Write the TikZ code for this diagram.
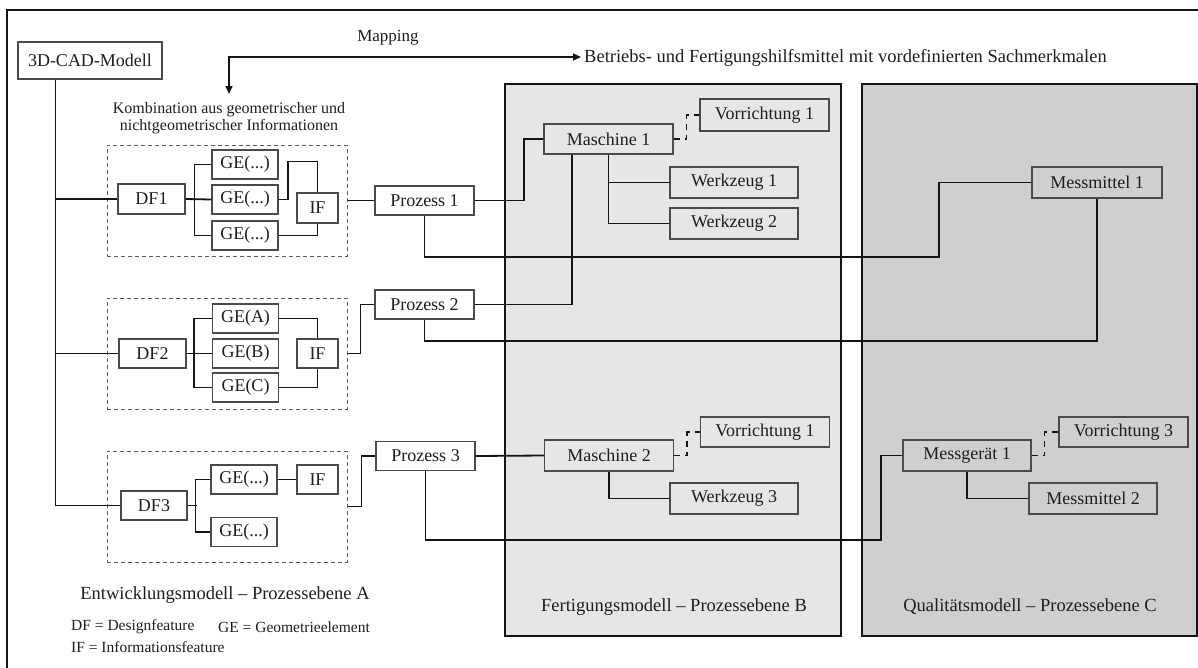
\documentclass[tikz,border=0pt]{standalone}
\usepackage{fontspec}
\setmainfont{Liberation Serif}
\usetikzlibrary{arrows.meta}
\definecolor{txt}{HTML}{1E1E1E}
\definecolor{boxline}{HTML}{4A4A4A}
\definecolor{conline}{HTML}{141414}
\definecolor{fertfill}{HTML}{E6E6E6}
\definecolor{qualfill}{HTML}{CFCFCF}
\tikzset{
  box/.style={draw=boxline, line width=1.2pt, fill=white, inner sep=0pt, text=txt,
              font=\fontsize{18}{20}\selectfont, minimum height=30pt},
  dfbox/.style={box, minimum width=67pt},
  gebox/.style={box, minimum width=66pt, minimum height=29pt},
  ifbox/.style={box, minimum width=41pt},
  procbox/.style={box, minimum width=99pt, minimum height=29pt},
  resbox/.style={box, minimum width=129pt, minimum height=31pt},
  groupbox/.style={draw=boxline!90, line width=1pt, dash pattern=on 4pt off 3pt,
              minimum width=240pt, minimum height=111pt, inner sep=0pt},
  area/.style={draw=conline, line width=1.8pt},
  con/.style={draw=conline, line width=1.8pt},
  thincon/.style={draw=conline, line width=1.2pt},
  dashcon/.style={draw=conline, line width=1.6pt, dash pattern=on 6pt off 5pt},
  lbl/.style={text=txt, inner sep=0pt, font=\fontsize{18.5}{21}\selectfont},
  smalllbl/.style={text=txt, inner sep=0pt, font=\fontsize{15.5}{18}\selectfont},
}
\begin{document}
\begin{tikzpicture}[x=1pt, y=-1pt]
\useasboundingbox (0,0) rectangle (1198,667);
% outer frame
\draw[line width=1.8pt, draw=conline] (7,10) rectangle (1215,690);

% process level areas B and C
\draw[area, fill=fertfill] (505,84) rectangle (841,636);
\draw[area, fill=qualfill] (862,84) rectangle (1197,636);
\node[lbl] (labB) at (674,607) {Fertigungsmodell – Prozessebene B};
\node[lbl] (labC) at (1030,607) {Qualitätsmodell – Prozessebene C};

% mapping arrow and captions
\node[lbl, font=\fontsize{17}{20}\selectfont] (mapping) at (388,38) {Mapping};
\node[lbl, anchor=west] (betriebs) at (584,58) {Betriebs- und Fertigungshilfsmittel mit vordefinierten Sachmerkmalen};
\node[lbl, font=\fontsize{16}{17.5}\selectfont, align=center] (kombi) at (229,118)
  {Kombination aus geometrischer und\\nichtgeometrischer Informationen};
\coordinate (mapL) at (229,94);
\coordinate (mapR) at (581,57);
\draw[con, line width=1.6pt, {Triangle[length=8pt,width=7pt]}-{Triangle[length=8pt,width=7pt]}] (mapL) |- (mapR);

% development model, level A
\node[box, minimum width=144pt, minimum height=37pt] (cad) at (90,60.5) {3D-CAD-Modell};

\node[groupbox] (G1) at (227,200.5) {};
\node[groupbox] (G2) at (227,353.5) {};
\node[groupbox] (G3) at (227,506.5) {};

\node[dfbox] (DF1) at (151.5,199) {DF1};
\node[gebox] (GE1a) at (245,164.5) {GE(...)};
\node[gebox] (GE1b) at (245,199.5) {GE(...)};
\node[gebox] (GE1c) at (245,235.5) {GE(...)};
\node[ifbox] (IF1) at (317.5,208) {IF};

\node[dfbox, minimum height=29pt] (DF2) at (152.5,353.5) {DF2};
\node[gebox] (GE2a) at (245.5,318.5) {GE(A)};
\node[gebox] (GE2b) at (245.5,353.5) {GE(B)};
\node[gebox] (GE2c) at (245.5,387.5) {GE(C)};
\node[ifbox, minimum height=29pt] (IF2) at (317.5,353.5) {IF};

\node[dfbox, minimum width=66pt, minimum height=29pt] (DF3) at (154,505.5) {DF3};
\node[gebox] (GE3a) at (244,479.5) {GE(...)};
\node[gebox] (GE3b) at (244,532) {GE(...)};
\node[ifbox, minimum height=29pt] (IF3) at (317.5,479.5) {IF};

\node[procbox] (P1) at (424.5,200.5) {Prozess 1};
\node[procbox] (P2) at (424.5,304.5) {Prozess 2};
\node[procbox] (P3) at (425.5,456) {Prozess 3};

\node[lbl] (labA) at (225,595) {Entwicklungsmodell – Prozessebene A};
\node[smalllbl, anchor=west] (legDF) at (71,627) {DF = Designfeature};
\node[smalllbl, anchor=west] (legGE) at (218,627) {GE = Geometrieelement};
\node[smalllbl, anchor=west] (legIF) at (71,647) {IF = Informationsfeature};

% manufacturing model, level B
\node[resbox, fill=fertfill, minimum height=30pt] (M1) at (608.5,139) {Maschine 1};
\node[resbox, fill=fertfill, minimum height=32pt] (V1) at (764.5,115) {Vorrichtung 1};
\node[resbox, fill=fertfill, minimum width=128pt] (W1) at (734,182.5) {Werkzeug 1};
\node[resbox, fill=fertfill, minimum width=128pt] (W2) at (734,223.5) {Werkzeug 2};
\node[resbox, fill=fertfill] (M2) at (609,455.5) {Maschine 2};
\node[resbox, fill=fertfill, minimum height=30pt] (V2) at (765,432) {Vorrichtung 1};
\node[resbox, fill=fertfill, minimum width=128pt] (W3) at (734,498.5) {Werkzeug 3};

% quality model, level C
\node[resbox, fill=qualfill, minimum width=130pt] (MM1) at (1097,182.5) {Messmittel 1};
\node[resbox, fill=qualfill, minimum width=128pt] (MG1) at (967,455.5) {Messgerät 1};
\node[resbox, fill=qualfill, minimum height=30pt] (V3) at (1123.5,432) {Vorrichtung 3};
\node[resbox, fill=qualfill, minimum width=128pt] (MM2) at (1093,498.5) {Messmittel 2};

% trunk from the CAD model to the design features
\coordinate (trunk) at ([xshift=38pt]cad.south west);
\draw[con] (trunk) |- (DF3.west);
\draw[con] (trunk |- DF1.west) -- (DF1.west);
\draw[con] (trunk |- DF2.west) -- (DF2.west);

% design feature 1
\draw[con] (DF1.east) -- (GE1b.west);
\draw[con] (GE1a.west) -- ++(-17,0) |- (GE1c.west);
\draw[con] (GE1b.east) -- ++(9,0) |- ([yshift=31pt]IF1.north) -- (IF1.north);
\draw[con] (GE1c.east) -| (IF1.south);
\draw[con] (G1.east) -- (P1.west);

% design feature 2
\draw[con] (DF2.east) -- (GE2b.west);
\draw[con] (GE2a.west) -- ++(-18,0) |- (GE2c.west);
\draw[con] (GE2a.east) -| (IF2.north);
\draw[con] (GE2c.east) -| (IF2.south);
\draw[con] (G2.east) -- ++(13,0) |- (P2.west);

% design feature 3
\draw[con] (DF3.east) -- ++(9,0);
\draw[con] (GE3a.west) -- ++(-15,0) |- (GE3b.west);
\draw[con] (GE3a.east) -- (IF3.west);
\draw[con] (G3.east) -- ++(14,0) |- (P3.west);

% processes to resources
\coordinate (b1) at (939,257);
\coordinate (b2) at (1097,341);
\coordinate (b3) at (881,540);
\draw[con] (P1.east) -- ++(49,0) |- (M1.west);
\draw[con] (P1.south) |- (b1) |- (MM1.west);
\draw[con] (P2.east) -| ([xshift=-36.5pt]M1.south);
\draw[thincon] (P2.south) |- (b2) -- (MM1.south);
\draw[con] (P3.east) -- (M2.west);
\draw[con] (P3.south) |- (b3) |- (MG1.west);

% machines, tools and fixtures
\draw[con] (M1.south) |- (W2.west);
\draw[con] (M1.south |- W1.west) -- (W1.west);
\draw[dashcon] (M1.east) -- ++(13,0) |- (V1.west);
\draw[con] (M2.south) |- (W3.west);
\draw[dashcon] (M2.east) -- ++(13,0) |- (V2.west);
\draw[con] (MG1.south) |- (MM2.west);
\draw[dashcon] (MG1.east) -- ++(13,0) |- (V3.west);
\end{tikzpicture}
\end{document}
